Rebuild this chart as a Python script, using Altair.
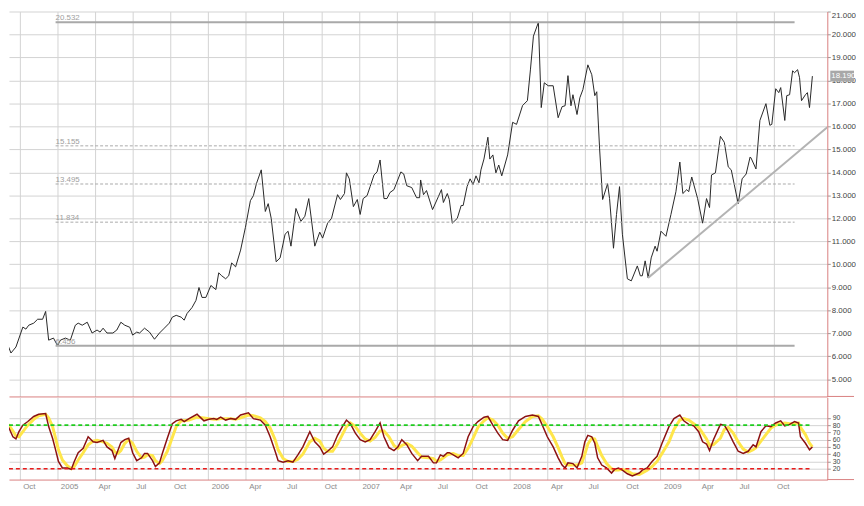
import altair as alt
import pandas as pd

# ---------------- data ----------------
# weekly close, time as decimal year
price_t = [2004.627, 2004.659, 2004.692, 2004.725, 2004.771, 2004.791, 2004.810, 2004.843, 2004.869, 2004.902,
           2004.922, 2004.942, 2004.974, 2005.001, 2005.020, 2005.053, 2005.086, 2005.119, 2005.138, 2005.165,
           2005.198, 2005.230, 2005.263, 2005.283, 2005.303, 2005.329, 2005.368, 2005.394, 2005.421, 2005.447,
           2005.480, 2005.499, 2005.526, 2005.545, 2005.578, 2005.611, 2005.644, 2005.677, 2005.709, 2005.742,
           2005.762, 2005.788, 2005.821, 2005.841, 2005.860, 2005.893, 2005.919, 2005.939, 2005.959, 2005.985,
           2006.018, 2006.051, 2006.070, 2006.090, 2006.116, 2006.136, 2006.156, 2006.182, 2006.215, 2006.247,
           2006.280, 2006.300, 2006.320, 2006.352, 2006.379, 2006.398, 2006.418, 2006.451, 2006.477, 2006.510,
           2006.530, 2006.549, 2006.582, 2006.615, 2006.641, 2006.667, 2006.707, 2006.740, 2006.759, 2006.792,
           2006.818, 2006.858, 2006.877, 2006.904, 2006.917, 2006.936, 2006.963, 2006.989, 2007.008, 2007.028,
           2007.054, 2007.074, 2007.100, 2007.120, 2007.140, 2007.166, 2007.186, 2007.205, 2007.232, 2007.278,
           2007.297, 2007.317, 2007.350, 2007.382, 2007.402, 2007.409, 2007.428, 2007.448, 2007.488, 2007.527,
           2007.547, 2007.560, 2007.586, 2007.599, 2007.619, 2007.652, 2007.678, 2007.691, 2007.717, 2007.737,
           2007.757, 2007.776, 2007.796, 2007.809, 2007.829, 2007.855, 2007.868, 2007.888, 2007.908, 2007.927,
           2007.947, 2007.986, 2008.019, 2008.045, 2008.085, 2008.117, 2008.137, 2008.157, 2008.190, 2008.209,
           2008.229, 2008.255, 2008.288, 2008.321, 2008.347, 2008.367, 2008.386, 2008.406, 2008.419, 2008.446,
           2008.465, 2008.485, 2008.518, 2008.544, 2008.564, 2008.577, 2008.596, 2008.616, 2008.649, 2008.662,
           2008.688, 2008.708, 2008.728, 2008.747, 2008.780, 2008.806, 2008.846, 2008.866, 2008.879, 2008.898,
           2008.918, 2008.938, 2008.964, 2008.977, 2009.003, 2009.036, 2009.069, 2009.102, 2009.128, 2009.148,
           2009.174, 2009.187, 2009.207, 2009.246, 2009.279, 2009.305, 2009.325, 2009.338, 2009.364, 2009.397,
           2009.423, 2009.449, 2009.469, 2009.515, 2009.541, 2009.568, 2009.594, 2009.600, 2009.633, 2009.659,
           2009.699, 2009.725, 2009.738, 2009.764, 2009.784, 2009.797, 2009.824, 2009.837, 2009.856, 2009.876,
           2009.889, 2009.909, 2009.922, 2009.935, 2009.961, 2009.974, 2009.988, 2010.007]
price_v = [6.83, 6.70, 6.14, 6.40, 7.27, 7.18, 7.35, 7.44, 7.61, 7.61,
           7.95, 6.70, 6.79, 6.46, 6.70, 6.79, 6.70, 7.35, 7.44, 7.35,
           7.48, 7.01, 7.14, 7.05, 7.22, 7.01, 7.01, 7.14, 7.48, 7.35,
           7.26, 6.92, 7.05, 7.01, 7.22, 7.05, 6.74, 7.01, 7.22, 7.44,
           7.70, 7.78, 7.70, 7.57, 7.86, 8.12, 8.43, 8.99, 8.56, 8.56,
           9.08, 8.90, 9.63, 9.50, 9.37, 9.50, 10.06, 9.89, 10.62, 11.61,
           12.77, 12.99, 13.51, 14.11, 12.30, 12.64, 12.00, 10.11, 10.28, 11.31,
           11.44, 10.79, 12.43, 11.87, 12.09, 12.86, 10.79, 11.40, 11.14, 11.79,
           12.00, 13.03, 12.82, 13.08, 13.98, 13.72, 12.51, 12.82, 12.17, 12.86,
           12.99, 13.38, 13.89, 14.02, 14.54, 12.86, 12.86, 13.12, 13.25, 14.02,
           13.93, 13.42, 13.34, 12.90, 12.90, 13.67, 13.03, 13.21, 12.38, 12.95,
           13.25, 12.69, 13.08, 12.82, 11.79, 12.00, 12.56, 12.56, 13.38, 13.72,
           13.47, 13.85, 13.55, 14.11, 14.58, 15.53, 14.58, 14.76, 13.98, 14.32,
           13.85, 14.76, 16.18, 16.09, 16.91, 17.12, 18.46, 19.93, 20.53, 16.82,
           17.90, 17.77, 17.77, 16.38, 16.86, 16.90, 18.21, 16.90, 17.38, 16.52,
           17.25, 17.60, 18.68, 18.25, 17.34, 17.51, 15.02, 12.82, 13.51, 12.86,
           10.70, 12.17, 13.38, 11.31, 9.37, 9.28, 9.93, 9.50, 9.50, 10.15,
           9.41, 10.28, 10.79, 10.57, 11.44, 11.22, 12.17, 13.16, 14.45, 13.08,
           13.25, 13.16, 13.80, 12.86, 11.79, 12.86, 12.47, 13.89, 13.98, 15.57,
           15.31, 14.24, 14.11, 12.64, 13.72, 13.93, 14.67, 14.63, 14.15, 16.26,
           16.99, 16.05, 16.09, 17.64, 17.47, 17.69, 16.26, 17.34, 17.38, 18.42,
           18.34, 18.47, 18.12, 17.12, 17.38, 17.47, 16.82, 18.19]

# stochastic oscillator (%K dark red, %D yellow)
stoch_t = [2004.627, 2004.659, 2004.679, 2004.705, 2004.725, 2004.745, 2004.771, 2004.804, 2004.843, 2004.876,
           2004.922, 2004.942, 2004.968, 2004.988, 2005.007, 2005.033, 2005.066, 2005.092, 2005.112, 2005.138,
           2005.171, 2005.204, 2005.237, 2005.263, 2005.303, 2005.329, 2005.362, 2005.381, 2005.401, 2005.421,
           2005.447, 2005.473, 2005.499, 2005.526, 2005.558, 2005.578, 2005.598, 2005.631, 2005.650, 2005.677,
           2005.696, 2005.729, 2005.762, 2005.788, 2005.821, 2005.841, 2005.873, 2005.926, 2005.972, 2006.005,
           2006.037, 2006.057, 2006.083, 2006.116, 2006.149, 2006.182, 2006.215, 2006.267, 2006.300, 2006.346,
           2006.379, 2006.411, 2006.444, 2006.464, 2006.497, 2006.530, 2006.562, 2006.595, 2006.628, 2006.674,
           2006.707, 2006.740, 2006.766, 2006.792, 2006.825, 2006.858, 2006.890, 2006.917, 2006.943, 2006.976,
           2007.008, 2007.041, 2007.074, 2007.107, 2007.140, 2007.166, 2007.199, 2007.232, 2007.258, 2007.284,
           2007.317, 2007.350, 2007.389, 2007.415, 2007.461, 2007.494, 2007.514, 2007.540, 2007.560, 2007.586,
           2007.599, 2007.625, 2007.658, 2007.691, 2007.724, 2007.757, 2007.789, 2007.829, 2007.855, 2007.888,
           2007.921, 2007.953, 2007.986, 2008.019, 2008.058, 2008.104, 2008.150, 2008.190, 2008.216, 2008.249,
           2008.288, 2008.321, 2008.347, 2008.367, 2008.386, 2008.419, 2008.446, 2008.478, 2008.498, 2008.518,
           2008.544, 2008.564, 2008.583, 2008.610, 2008.642, 2008.675, 2008.695, 2008.721, 2008.747, 2008.780,
           2008.813, 2008.859, 2008.879, 2008.911, 2008.944, 2008.977, 2009.010, 2009.056, 2009.089, 2009.128,
           2009.154, 2009.187, 2009.220, 2009.253, 2009.279, 2009.305, 2009.325, 2009.351, 2009.397, 2009.423,
           2009.449, 2009.482, 2009.515, 2009.548, 2009.581, 2009.614, 2009.633, 2009.666, 2009.699, 2009.732,
           2009.764, 2009.797, 2009.824, 2009.856, 2009.889, 2009.915, 2009.928, 2009.961, 2009.988, 2010.007]
stoch_k = [82, 81, 76, 64, 61, 71, 80, 85, 92, 95,
           96, 78, 62, 46, 30, 21, 21, 19, 30, 42,
           48, 64, 57, 56, 59, 50, 45, 34, 45, 56,
           60, 62, 42, 31, 35, 41, 41, 31, 23, 28,
           41, 62, 82, 86, 88, 85, 89, 95, 86, 88,
           89, 88, 91, 87, 89, 88, 94, 97, 89, 87,
           80, 64, 44, 31, 29, 31, 29, 39, 50, 71,
           57, 50, 40, 44, 50, 66, 78, 87, 82, 69,
           60, 57, 60, 71, 83, 64, 49, 45, 50, 60,
           53, 41, 31, 37, 37, 28, 28, 39, 37, 42,
           42, 39, 35, 41, 64, 78, 85, 91, 92, 80,
           69, 60, 59, 73, 86, 92, 94, 92, 80, 64,
           50, 35, 25, 21, 28, 27, 21, 37, 57, 66,
           64, 55, 35, 25, 21, 14, 19, 21, 18, 13,
           10, 14, 18, 21, 30, 37, 55, 78, 89, 94,
           86, 81, 79, 71, 57, 54, 45, 60, 81, 80,
           71, 57, 44, 41, 44, 53, 50, 71, 79, 78,
           83, 86, 79, 81, 85, 83, 64, 55, 46, 50]
stoch_d = [75, 80, 80, 72, 65, 64, 71, 80, 88, 93,
           95, 90, 78, 62, 46, 32, 24, 20, 23, 32,
           42, 53, 58, 59, 57, 55, 50, 43, 41, 45,
           55, 60, 55, 44, 35, 36, 39, 38, 31, 27,
           31, 44, 63, 78, 86, 86, 87, 91, 90, 89,
           88, 88, 89, 89, 89, 88, 90, 94, 93, 90,
           85, 76, 60, 46, 34, 30, 30, 33, 40, 57,
           62, 58, 48, 44, 44, 54, 67, 78, 83, 78,
           69, 61, 58, 63, 72, 72, 64, 52, 48, 52,
           55, 51, 42, 36, 35, 34, 30, 32, 35, 39,
           40, 41, 38, 38, 48, 62, 77, 86, 90, 87,
           80, 69, 62, 64, 74, 85, 92, 93, 88, 78,
           64, 49, 36, 27, 25, 25, 25, 28, 40, 54,
           62, 61, 51, 38, 27, 20, 18, 18, 19, 17,
           13, 12, 14, 18, 23, 30, 41, 57, 74, 87,
           89, 87, 82, 77, 69, 61, 52, 53, 62, 74,
           77, 69, 57, 47, 43, 46, 49, 58, 67, 76,
           80, 82, 83, 82, 82, 83, 77, 67, 55, 50]

# Fibonacci retracement levels
fib_levels = [20.532, 15.155, 13.495, 11.834, 6.456]
fib_labels = ["20.532", "15.155", "13.495", "11.834", "6.456"]
fib_solid = [True, False, False, False, True]
fib_start = 2004.988
fib_end = 2009.889

# support trend line
trend_t = [2008.917, 2010.106]
trend_v = [9.41, 15.96]

last_price = 18.19
last_label = "18.190"

stoch_high = 80
stoch_low = 20

X_DOMAIN = [2004.679, 2010.106]
PRICE_DOMAIN = [4.25, 21.0]
STOCH_DOMAIN = [5, 118.2]
quarter_ticks = [2004.75, 2005.0, 2005.25, 2005.5, 2005.75, 2006.0, 2006.25, 2006.5, 2006.75,
                 2007.0, 2007.25, 2007.5, 2007.75, 2008.0, 2008.25, 2008.5, 2008.75,
                 2009.0, 2009.25, 2009.5, 2009.75]
price_ticks = [5, 6, 7, 8, 9, 10, 11, 12, 13, 14, 15, 16, 17, 18, 19, 20, 21]
stoch_ticks = [20, 30, 40, 50, 60, 70, 80, 90]

# ---------------- chart ----------------
AXIS_RED = "#d98080"
GRID = "#d2d2d2"
W = 827

price_df = pd.DataFrame({"t": price_t, "v": price_v})
stoch_df = pd.DataFrame({"t": stoch_t, "K": stoch_k, "D": stoch_d})
fib_df = pd.DataFrame({"level": fib_levels, "label": fib_labels, "solid": fib_solid,
                       "t0": [fib_start] * len(fib_levels), "t1": [fib_end] * len(fib_levels)})
trend_df = pd.DataFrame({"t": trend_t, "v": trend_v})
last_df = pd.DataFrame({"t": [X_DOMAIN[1]], "v": [last_price], "label": [last_label]})

xs = alt.Scale(domain=X_DOMAIN, nice=False, zero=False)
ys_price = alt.Scale(domain=PRICE_DOMAIN, nice=False, zero=False)
ys_stoch = alt.Scale(domain=STOCH_DOMAIN, nice=False, zero=False)

ax_top = alt.Axis(values=quarter_ticks, labels=False, ticks=False, tickSize=0, title=None,
                  domainColor=AXIS_RED, gridColor=GRID)
ay_price = alt.Axis(orient="right", values=price_ticks, format=".3f", title=None,
                    labelFontSize=8, labelColor="#444444", tickColor="#999999", tickSize=3,
                    labelPadding=1, labelFlush=True, domainColor=AXIS_RED, gridColor=GRID)

label_expr = ("(datum.value*4)%4 == 0 ? format(datum.value, 'd') : "
              "((datum.value*4)%4 == 1 ? 'Apr' : ((datum.value*4)%4 == 2 ? 'Jul' : 'Oct'))")
ax_bot = alt.Axis(values=quarter_ticks, labelExpr=label_expr, labelAlign="left", labelOffset=3,
                  labelPadding=3, labelFontSize=8, labelColor="#8c8c8c", ticks=False, tickSize=0,
                  title=None, labelOverlap=False, domainColor=AXIS_RED, gridColor=GRID)
ay_stoch = alt.Axis(orient="right", values=stoch_ticks, title=None, labelFontSize=7,
                    labelColor="#444444", tickColor="#999999", tickSize=3, labelPadding=2,
                    labelOverlap=False, domainColor=AXIS_RED, gridColor=GRID)

px = alt.X("t:Q", scale=xs, axis=ax_top)
py = alt.Y("v:Q", scale=ys_price, axis=ay_price)

price_line = alt.Chart(price_df).mark_line(color="#262626", strokeWidth=1, clip=True).encode(x=px, y=py)

fib_solid_rules = alt.Chart(fib_df).transform_filter("datum.solid").mark_rule(
    color="#a9a9a9", strokeWidth=2).encode(
    x=alt.X("t0:Q", scale=xs, axis=ax_top), x2="t1:Q",
    y=alt.Y("level:Q", scale=ys_price, axis=ay_price))
fib_dash_rules = alt.Chart(fib_df).transform_filter("!datum.solid").mark_rule(
    color="#a9a9a9", strokeWidth=1, strokeDash=[3, 2]).encode(
    x=alt.X("t0:Q", scale=xs, axis=ax_top), x2="t1:Q",
    y=alt.Y("level:Q", scale=ys_price, axis=ay_price))
fib_text = alt.Chart(fib_df).mark_text(align="left", baseline="bottom", dy=0, fontSize=8,
                                       color="#a0a0a0").encode(
    x=alt.X("t0:Q", scale=xs, axis=ax_top),
    y=alt.Y("level:Q", scale=ys_price, axis=ay_price), text="label:N")

trend_line = alt.Chart(trend_df).mark_line(color="#b3b3b3", strokeWidth=2, clip=True).encode(x=px, y=py)

last_box = alt.Chart(last_df).mark_rect(width=24, height=11, xOffset=15, color="#a8a8a8").encode(x=px, y=py)
last_text = alt.Chart(last_df).mark_text(align="left", baseline="middle", dx=4, fontSize=8,
                                         color="#ffffff").encode(x=px, y=py, text="label:N")

# panel separator carried across the scale column
top_sep = alt.Chart(last_df).mark_rule(color=AXIS_RED, strokeWidth=1).encode(
    x=alt.X(datum=X_DOMAIN[1], scale=xs, axis=ax_top), x2=alt.value(W + 27),
    y=alt.Y(datum=PRICE_DOMAIN[0], scale=ys_price, axis=ay_price))

top = alt.layer(price_line, fib_solid_rules, fib_dash_rules, fib_text, trend_line,
                last_box, last_text, top_sep).properties(width=W, height=389)

sx = alt.X("t:Q", scale=xs, axis=ax_bot)
d_line = alt.Chart(stoch_df).mark_line(color="#ffe64a", strokeWidth=3, clip=True).encode(
    x=sx, y=alt.Y("D:Q", scale=ys_stoch, axis=ay_stoch))
k_line = alt.Chart(stoch_df).mark_line(color="#8b1111", strokeWidth=1.5, clip=True).encode(
    x=sx, y=alt.Y("K:Q", scale=ys_stoch, axis=ay_stoch))
hi_rule = alt.Chart(last_df).mark_rule(color="#1fcc1f", strokeWidth=1.6, strokeDash=[4, 3]).encode(
    x=alt.X(datum=X_DOMAIN[0], scale=xs, axis=ax_bot), x2=alt.X2(datum=stoch_t[-1]),
    y=alt.Y(datum=stoch_high, scale=ys_stoch, axis=ay_stoch))
lo_rule = alt.Chart(last_df).mark_rule(color="#e81c1c", strokeWidth=1.6, strokeDash=[4, 3]).encode(
    x=alt.X(datum=X_DOMAIN[0], scale=xs, axis=ax_bot), x2=alt.X2(datum=stoch_t[-1]),
    y=alt.Y(datum=stoch_low, scale=ys_stoch, axis=ay_stoch))
bot_sep = alt.Chart(last_df).mark_rule(color=AXIS_RED, strokeWidth=1).encode(
    x=alt.X(datum=X_DOMAIN[1], scale=xs, axis=ax_bot), x2=alt.value(W + 27),
    y=alt.Y(datum=STOCH_DOMAIN[0], scale=ys_stoch, axis=ay_stoch))

bottom = alt.layer(d_line, k_line, hi_rule, lo_rule, bot_sep).properties(width=W, height=83)

chart = alt.vconcat(top, bottom, spacing=0).properties(
    padding={"left": 0, "top": 0, "right": 0, "bottom": 0}, background="white"
).configure(font="Liberation Sans").configure_view(stroke=None).configure_axis(gridWidth=1, domainWidth=1)

chart.save("out.html", embed_options={"renderer": "svg", "actions": False})
